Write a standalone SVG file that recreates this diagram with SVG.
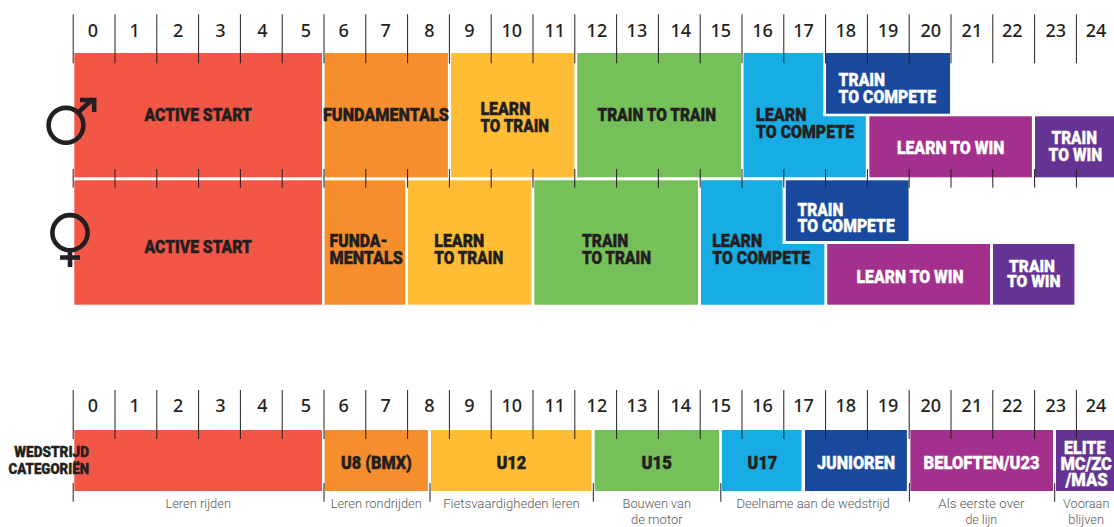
<svg xmlns="http://www.w3.org/2000/svg" xmlns:xlink="http://www.w3.org/1999/xlink" width="1114" height="527" viewBox="0 0 1114 527">
<style>
.red{fill:#f15647}.orange{fill:#f68e2e}.yellow{fill:#febd35}.green{fill:#76c05a}.blue{fill:#17ade4}.navy{fill:#19499c}.purple{fill:#a2308c}.violet{fill:#653393}
.tick{fill:none;stroke:#231f20;stroke-width:1}
.sym{fill:none;stroke:#231f20;stroke-width:4.6}
text{font-family:"Roboto","Liberation Sans",sans-serif}
.num{font-family:"Noto Sans","Open Sans",sans-serif;font-size:18px;fill:#231f20;text-anchor:middle;font-weight:500}
.d,.w{font-size:18px;font-weight:900}
.d{fill:#231f20;stroke:#231f20;stroke-width:.45}
.w{fill:#fff;stroke:#fff;stroke-width:.35}
.sm{font-size:16px}
.s{font-size:15px;font-weight:900;fill:#231f20;stroke:#231f20;stroke-width:.4}
.c{font-size:13.5px;font-weight:300;fill:#58595b}
</style>
<defs>
<path id="ticksLong" class="tick" d="M73.2 0V49M115 0V49M156.8 0V49M198.6 0V49M240.4 0V49M282.2 0V49M324 0V49M365.8 0V49M407.6 0V49M449.4 0V49M491.2 0V49M533 0V49M574.8 0V49M616.6 0V49M658.4 0V49M700.2 0V49M742 0V49M783.8 0V49M825.6 0V49M867.4 0V49M909.2 0V49M951 0V49M992.8 0V49M1034.6 0V49M1076.4 0V49"/>
</defs>
<rect width="1114" height="527" fill="#fff"/>

<g id="axis-top-numbers">
<text class="num" x="92.9" y="37">0</text><text class="num" x="134.6" y="37">1</text><text class="num" x="178.2" y="37">2</text><text class="num" x="220.4" y="37">3</text><text class="num" x="262.5" y="37">4</text><text class="num" x="306" y="37">5</text><text class="num" x="343.6" y="37">6</text><text class="num" x="385.7" y="37">7</text><text class="num" x="429.3" y="37">8</text><text class="num" x="469.3" y="37">9</text><text class="num" x="511.8" y="37">10</text><text class="num" x="554.8" y="37">11</text><text class="num" x="596.9" y="37">12</text><text class="num" x="636.9" y="37">13</text><text class="num" x="680.8" y="37">14</text><text class="num" x="720.8" y="37">15</text><text class="num" x="762.6" y="37">16</text><text class="num" x="803.6" y="37">17</text><text class="num" x="845.8" y="37">18</text><text class="num" x="888" y="37">19</text><text class="num" x="930.8" y="37">20</text><text class="num" x="971.9" y="37">21</text><text class="num" x="1012.2" y="37">22</text><text class="num" x="1055.8" y="37">23</text><text class="num" x="1096.1" y="37">24</text>
</g>

<g id="male-active-start"><rect class="red" x="74.3" y="53" width="247.7" height="124.3"/><text class="d" x="144.6" y="121" textLength="107.4" lengthAdjust="spacingAndGlyphs">ACTIVE START</text></g>
<g id="male-fundamentals"><rect class="orange" x="324.6" y="53" width="123.3" height="124.3"/><text class="d" x="323" y="121" textLength="126" lengthAdjust="spacingAndGlyphs">FUNDAMENTALS</text></g>
<g id="male-learn-to-train"><rect class="yellow" x="451" y="53" width="123.4" height="124.3"/><text class="d" x="480.4" y="115" textLength="50" lengthAdjust="spacingAndGlyphs">LEARN</text><text class="d" x="480.4" y="132.3" textLength="68.6" lengthAdjust="spacingAndGlyphs">TO TRAIN</text></g>
<g id="male-train-to-train"><rect class="green" x="577.2" y="53" width="163.8" height="124.3"/><text class="d" x="597.6" y="121" textLength="118.4" lengthAdjust="spacingAndGlyphs">TRAIN TO TRAIN</text></g>
<g id="male-learn-to-compete"><path class="blue" d="M743.6 53H823.3V116.3H865.8V177.3H743.6Z"/><text class="d" x="756" y="121" textLength="50.5" lengthAdjust="spacingAndGlyphs">LEARN</text><text class="d" x="756" y="137.5" textLength="98" lengthAdjust="spacingAndGlyphs">TO COMPETE</text></g>
<g id="male-train-to-compete"><rect class="navy" x="826" y="53" width="124" height="60.7"/><text class="w" x="838.6" y="86" textLength="46.4" lengthAdjust="spacingAndGlyphs">TRAIN</text><text class="w" x="838.6" y="103" textLength="97.4" lengthAdjust="spacingAndGlyphs">TO COMPETE</text></g>
<g id="male-learn-to-win"><rect class="purple" x="869.4" y="116.3" width="162.5" height="61"/><text class="w" x="896.9" y="154" textLength="107.5" lengthAdjust="spacingAndGlyphs">LEARN TO WIN</text></g>
<g id="male-train-to-win"><rect class="violet" x="1035" y="116.3" width="79" height="61"/><text class="w" x="1051.5" y="144" textLength="45.4" lengthAdjust="spacingAndGlyphs">TRAIN</text><text class="w" x="1048.6" y="161" textLength="53.6" lengthAdjust="spacingAndGlyphs">TO WIN</text></g>

<g id="female-active-start"><rect class="red" x="74.3" y="180.3" width="247.7" height="124.4"/><text class="d" x="144.6" y="253" textLength="107.4" lengthAdjust="spacingAndGlyphs">ACTIVE START</text></g>
<g id="female-fundamentals"><rect class="orange" x="324.6" y="180.3" width="80.4" height="124.4"/><text class="d" x="329.6" y="247" textLength="57.9" lengthAdjust="spacingAndGlyphs">FUNDA-</text><text class="d" x="329.6" y="264" textLength="73.3" lengthAdjust="spacingAndGlyphs">MENTALS</text></g>
<g id="female-learn-to-train"><rect class="yellow" x="407.9" y="180.3" width="123.5" height="124.4"/><text class="d" x="434.3" y="247" textLength="50" lengthAdjust="spacingAndGlyphs">LEARN</text><text class="d" x="434.3" y="264" textLength="68.9" lengthAdjust="spacingAndGlyphs">TO TRAIN</text></g>
<g id="female-train-to-train"><rect class="green" x="534.3" y="180.3" width="163.7" height="124.4"/><text class="d" x="581.9" y="247" textLength="46.4" lengthAdjust="spacingAndGlyphs">TRAIN</text><text class="d" x="581.9" y="264" textLength="69.1" lengthAdjust="spacingAndGlyphs">TO TRAIN</text></g>
<g id="female-learn-to-compete"><path class="blue" d="M701 180.3H782.6V244H824.4V304.7H701Z"/><text class="d" x="712.2" y="247" textLength="50" lengthAdjust="spacingAndGlyphs">LEARN</text><text class="d" x="712.2" y="264" textLength="97.8" lengthAdjust="spacingAndGlyphs">TO COMPETE</text></g>
<g id="female-train-to-compete"><rect class="navy" x="785.8" y="180.3" width="122.8" height="60.7"/><text class="w" x="797.6" y="216" textLength="45.7" lengthAdjust="spacingAndGlyphs">TRAIN</text><text class="w" x="797.6" y="232" textLength="97.1" lengthAdjust="spacingAndGlyphs">TO COMPETE</text></g>
<g id="female-learn-to-win"><rect class="purple" x="827.2" y="244" width="162.8" height="60.7"/><text class="w" x="856.5" y="283" textLength="107.1" lengthAdjust="spacingAndGlyphs">LEARN TO WIN</text></g>
<g id="female-train-to-win"><rect class="violet" x="993" y="244" width="81.4" height="60.7"/><text class="w sm" x="1009" y="272.2" textLength="46" lengthAdjust="spacingAndGlyphs">TRAIN</text><text class="w sm" x="1006.9" y="287.3" textLength="53.5" lengthAdjust="spacingAndGlyphs">TO WIN</text></g>

<g id="symbol-male"><circle class="sym" cx="66" cy="125.3" r="17.4"/><path class="sym" d="M78.5 112L93 99"/><path class="sym" d="M80 100H94.2V112"/></g>
<g id="symbol-female"><circle class="sym" cx="70" cy="232.7" r="17.6"/><path class="sym" d="M70 250.3V267M60 257.5H80"/></g>

<g id="axis-bottom-numbers">
<text class="num" x="92.9" y="412">0</text><text class="num" x="134.6" y="412">1</text><text class="num" x="178.2" y="412">2</text><text class="num" x="220.4" y="412">3</text><text class="num" x="262.5" y="412">4</text><text class="num" x="306" y="412">5</text><text class="num" x="343.6" y="412">6</text><text class="num" x="385.7" y="412">7</text><text class="num" x="429.3" y="412">8</text><text class="num" x="469.3" y="412">9</text><text class="num" x="511.8" y="412">10</text><text class="num" x="554.8" y="412">11</text><text class="num" x="596.9" y="412">12</text><text class="num" x="636.9" y="412">13</text><text class="num" x="680.8" y="412">14</text><text class="num" x="720.8" y="412">15</text><text class="num" x="762.6" y="412">16</text><text class="num" x="803.6" y="412">17</text><text class="num" x="845.8" y="412">18</text><text class="num" x="888" y="412">19</text><text class="num" x="930.8" y="412">20</text><text class="num" x="971.9" y="412">21</text><text class="num" x="1012.2" y="412">22</text><text class="num" x="1055.8" y="412">23</text><text class="num" x="1096.1" y="412">24</text>
</g>

<g id="cat-leren-rijden"><rect class="red" x="74.3" y="430" width="247.7" height="61"/><text class="c" x="165.4" y="508" textLength="65.6" lengthAdjust="spacingAndGlyphs">Leren rijden</text></g>
<g id="cat-u8"><rect class="orange" x="324.6" y="430" width="103.3" height="61"/><text class="d" x="341" y="469.3" textLength="70.8" lengthAdjust="spacingAndGlyphs">U8 (BMX)</text><text class="c" x="330.7" y="508" textLength="91.1" lengthAdjust="spacingAndGlyphs">Leren rondrijden</text></g>
<g id="cat-u12"><rect class="yellow" x="431" y="430" width="160.5" height="61"/><text class="d" x="496.4" y="469.3" textLength="30" lengthAdjust="spacingAndGlyphs">U12</text><text class="c" x="443.2" y="508" textLength="136.5" lengthAdjust="spacingAndGlyphs">Fietsvaardigheden leren</text></g>
<g id="cat-u15"><rect class="green" x="594.7" y="430" width="124.3" height="61"/><text class="d" x="641.5" y="469.3" textLength="30.4" lengthAdjust="spacingAndGlyphs">U15</text><text class="c" x="622.6" y="508" textLength="68.4" lengthAdjust="spacingAndGlyphs">Bouwen van</text><text class="c" x="631" y="523.7" textLength="51.6" lengthAdjust="spacingAndGlyphs">de motor</text></g>
<g id="cat-u17"><rect class="blue" x="721.9" y="430" width="79.6" height="61"/><text class="d" x="747.6" y="469.3" textLength="29.6" lengthAdjust="spacingAndGlyphs">U17</text></g>
<g id="cat-junioren"><rect class="navy" x="805" y="430" width="101.9" height="61"/><text class="w" x="816.9" y="469.3" textLength="78.1" lengthAdjust="spacingAndGlyphs">JUNIOREN</text><text class="c" x="736.5" y="508" textLength="153.2" lengthAdjust="spacingAndGlyphs">Deelname aan de wedstrijd</text></g>
<g id="cat-beloften"><rect class="purple" x="910.4" y="430" width="142.6" height="61"/><text class="w" x="923.6" y="469.3" textLength="116.1" lengthAdjust="spacingAndGlyphs">BELOFTEN/U23</text><text class="c" x="938.3" y="508" textLength="86.1" lengthAdjust="spacingAndGlyphs">Als eerste over</text><text class="c" x="965.4" y="523.7" textLength="31.8" lengthAdjust="spacingAndGlyphs">de lijn</text></g>
<g id="cat-elite"><rect class="violet" x="1056" y="430" width="58" height="61"/><text class="w" x="1064" y="454" textLength="41.4" lengthAdjust="spacingAndGlyphs">ELITE</text><text class="w" x="1060.4" y="470" textLength="51.5" lengthAdjust="spacingAndGlyphs">MC/ZC</text><text class="w" x="1065.4" y="486" textLength="42.2" lengthAdjust="spacingAndGlyphs">/MAS</text><text class="c" x="1063" y="508" textLength="46.4" lengthAdjust="spacingAndGlyphs">Vooraan</text><text class="c" x="1068.3" y="523.7" textLength="35.7" lengthAdjust="spacingAndGlyphs">blijven</text></g>
<g id="cat-label"><text class="s" x="14.3" y="457" textLength="74.7" lengthAdjust="spacingAndGlyphs">WEDSTRIJD</text><text class="s" x="8.6" y="474" textLength="80.4" lengthAdjust="spacingAndGlyphs">CATEGORIËN</text></g>

<g id="connectors">
<use xlink:href="#ticksLong" href="#ticksLong" y="14.3"/>
<use xlink:href="#ticksLong" href="#ticksLong" y="390"/>
<path class="tick" d="M73.2 169V187.7M115 169V187.7M156.8 169V187.7M198.6 169V187.7M240.4 169V187.7M282.2 169V187.7M324 169V187.7M365.8 169V187.7M407.6 169V187.7M449.4 169V187.7M491.2 169V187.7M533 169V187.7M574.8 169V187.7M616.6 169V187.7M658.4 169V187.7M700.2 169V187.7M742 169V187.7M783.8 169V187.7M825.6 169V187.7M867.4 169V187.7M909.2 169V187.7M951 169V187.7M992.8 169V187.7M1034.6 169V187.7M1076.4 169V187.7"/>
<path class="tick" d="M73.2 483V501.7M324 483V501.7M430 483V501.7M593.3 483V501.7M720.8 483V501.7M909.4 483V501.7M1054.7 483V501.7"/>
</g>
</svg>
